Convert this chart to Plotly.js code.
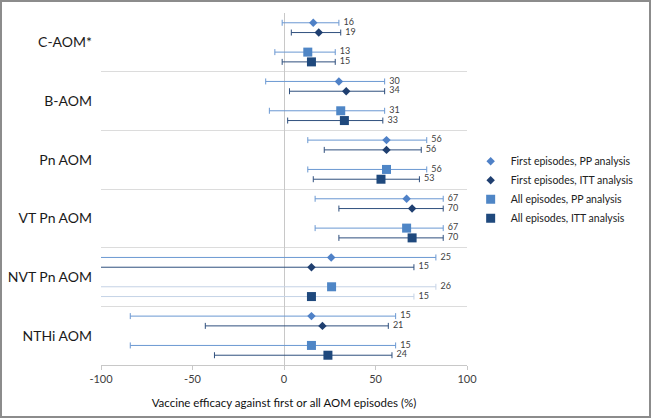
<!DOCTYPE html>
<html>
<head>
<meta charset="utf-8">
<script src="https://cdn.plot.ly/plotly-3.0.1.min.js"></script>
<style>html,body{margin:0;padding:0;background:#fff}#chart{width:652px;height:419px}</style>
</head>
<body>
<div id="chart"></div>
<script>
// ---- data ----
const categories = ["C-AOM*", "B-AOM", "Pn AOM", "VT Pn AOM", "NVT Pn AOM", "NTHi AOM"];
const seriesNames = ["First episodes, PP analysis", "First episodes, ITT analysis", "All episodes, PP analysis", "All episodes, ITT analysis"];

// point estimates (VE %), per category
const fePP  = [16, 30, 56, 67, 25.8, 15];
const feITT = [19, 34, 56, 70, 15, 21];
const allPP = [13, 31, 56, 67, 26, 15];
const allITT= [15, 33, 53, 70, 15, 24];

// printed labels
const fePPLabels  = ["16", "30", "56", "67", "25", "15"];
const feITTLabels = ["19", "34", "56", "70", "15", "21"];
const allPPLabels = ["13", "31", "56", "67", "26", "15"];
const allITTLabels= ["15", "33", "53", "70", "15", "24"];

// 95% CI lower / upper bounds
const fePPLow   = [-1, -10, 13, 17, -125, -84];
const fePPHigh  = [30, 55, 78, 87, 83, 61];
const feITTLow  = [4, 3, 22, 30, -140, -43];
const feITTHigh = [31, 55, 75, 87, 71, 57];
const allPPLow  = [-5, -8, 13, 17, -120, -84];
const allPPHigh = [28, 55, 78, 87, 83, 61];
const allITTLow = [-1, 2, 16, 30, -135, -38];
const allITTHigh= [28, 54, 74, 87, 71, 59];

const xTickVals  = [-100, -50, 0, 50, 100];
const xTickText  = ["-100", "-50", "0", "50", "100"];

// ---- layout helpers ----
const rowOffset = [1, 2, 4, 5];
const G = 6;
const paleCategory = "NVT Pn AOM";
const paleSeries = [2, 3];

const series = [
  {name: seriesNames[0], v: fePP,  lo: fePPLow,  hi: fePPHigh,  lab: fePPLabels,  sym: "diamond", size: 6.5, mc: "#4f81c7", ec: "#6b98d2"},
  {name: seriesNames[1], v: feITT, lo: feITTLow, hi: feITTHigh, lab: feITTLabels, sym: "diamond", size: 6.5, mc: "#1f3f70", ec: "#2f4f7d"},
  {name: seriesNames[2], v: allPP, lo: allPPLow, hi: allPPHigh, lab: allPPLabels, sym: "square",  size: 9,   mc: "#4f86c6", ec: "#6b98d2"},
  {name: seriesNames[3], v: allITT,lo: allITTLow,hi: allITTHigh,lab: allITTLabels,sym: "square",  size: 9,   mc: "#1f497d", ec: "#2f4f7d"}
];

const traces = [];
const paleIdx = categories.indexOf(paleCategory);

// pale CI lines (drawn first, under markers)
series.forEach((s, si) => {
  if (paleSeries.indexOf(si) < 0) return;
  const y = [paleIdx * G + rowOffset[si]];
  traces.push({
    type: "scatter", mode: "markers", showlegend: false, hoverinfo: "skip",
    x: [s.v[paleIdx]], y: y,
    marker: {size: 1, color: "rgba(0,0,0,0)"},
    error_x: {type: "data", symmetric: false,
      array: [s.hi[paleIdx] - s.v[paleIdx]], arrayminus: [s.v[paleIdx] - s.lo[paleIdx]],
      color: "#c5d3e6", thickness: 1, width: 3}
  });
});

series.forEach((s, si) => {
  const y = categories.map((c, ci) => ci * G + rowOffset[si]);
  const isPale = ci => (ci === paleIdx && paleSeries.indexOf(si) >= 0);
  traces.push({
    type: "scatter", mode: "markers", name: s.name,
    x: s.v, y: y,
    marker: {symbol: s.sym, size: s.size, color: s.mc, line: {width: 0}},
    error_x: {type: "data", symmetric: false,
      array: s.v.map((v, ci) => isPale(ci) ? NaN : s.hi[ci] - v),
      arrayminus: s.v.map((v, ci) => isPale(ci) ? NaN : v - s.lo[ci]),
      color: s.ec, thickness: 1, width: 3}
  });
});

// value labels
series.forEach((s, si) => {
  traces.push({
    type: "scatter", mode: "text", showlegend: false, hoverinfo: "skip",
    x: s.hi, y: categories.map((c, ci) => ci * G + rowOffset[si]),
    text: s.lab.map(t => "  " + t), textposition: "middle right",
    textfont: {family: "Lato, 'Liberation Sans', sans-serif", size: 9, color: "#404040"},
    cliponaxis: false
  });
});

const nY = categories.length * G;
const layout = {
  width: 652, height: 419,
  margin: {l: 101, r: 185, t: 13, b: 54, autoexpand: false},
  paper_bgcolor: "#fff", plot_bgcolor: "#fff",
  font: {family: "Lato, 'Liberation Sans', sans-serif", color: "#000"},
  showlegend: true,
  legend: {x: 1.01, y: 0.62, xanchor: "left", yanchor: "top",
    font: {size: 10.5, color: "#222"}, itemwidth: 30, tracegroupgap: 0, bgcolor: "rgba(0,0,0,0)"},
  xaxis: {
    range: [-100, 100], tickvals: xTickVals, ticktext: xTickText,
    showgrid: false, zeroline: true, zerolinecolor: "#c8c8c8", zerolinewidth: 1,
    showline: true, linecolor: "#c8c8c8", linewidth: 1,
    ticks: "outside", ticklen: 4, tickcolor: "#c8c8c8",
    tickfont: {size: 11, color: "#404040"},
    title: {text: "Vaccine efficacy against first or all AOM episodes (%)", font: {size: 11.5, color: "#111"}, standoff: 14},
    fixedrange: true
  },
  yaxis: {
    range: [nY, 0],
    tickvals: categories.map((c, ci) => ci * G + 3), ticktext: categories,
    ticks: "", showgrid: false, zeroline: false, showline: false,
    ticklabelstandoff: 8,
    tickfont: {size: 14, color: "#1a1a1a"},
    minor: {tickvals: categories.map((c, ci) => ci * G), showgrid: true, gridcolor: "#dcdcdc", gridwidth: 1, ticks: ""},
    fixedrange: true
  },
  shapes: [
    {type: "rect", xref: "paper", yref: "paper",
     x0: (1 - 101) / 366, x1: (650 - 101) / 366, y0: (365 - 417) / 352, y1: (365 - 1) / 352,
     line: {color: "#8c8c8c", width: 2}, fillcolor: "rgba(0,0,0,0)"}
  ]
};

Plotly.newPlot("chart", traces, layout, {displayModeBar: false, staticPlot: true});
</script>
</body>
</html>
